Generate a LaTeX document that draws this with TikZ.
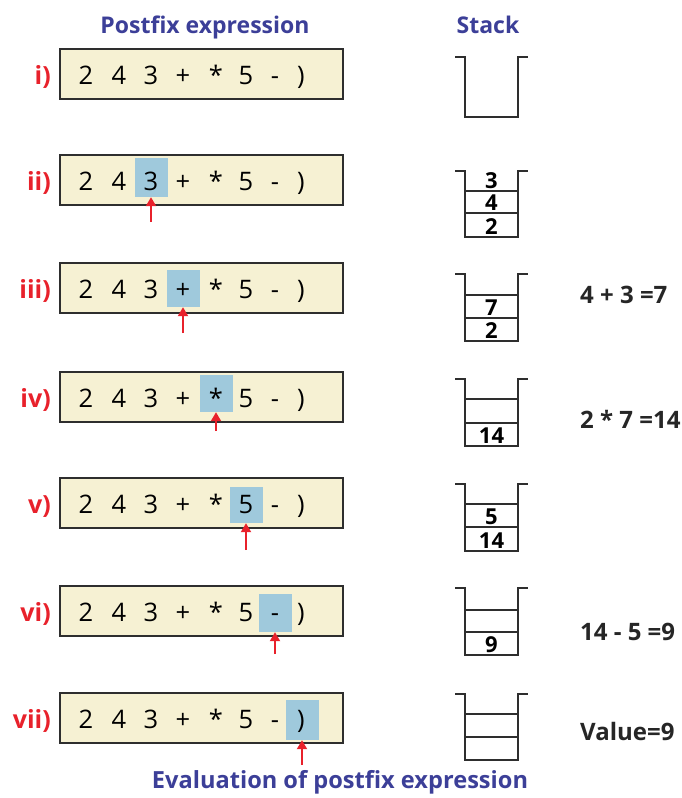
\documentclass[tikz,border=0pt]{standalone}
\usepackage{fontspec}
\setmainfont{Open Sans}
\usetikzlibrary{arrows.meta}
\definecolor{cream}{HTML}{F6F1D3}
\definecolor{hlblue}{HTML}{9FC9DC}
\definecolor{redlab}{HTML}{E8212B}
\definecolor{titleblue}{HTML}{3C3F98}
\definecolor{linegray}{HTML}{2E2E2E}
\newcommand\exprbox[3]{%
  \node[exprbox] (box#1) at (201.5,#2) {};
  \node[rowlab] (lab#1) at (51,{#2+10}) {#3};}
\newcommand\exprchars[2]{%
  \foreach \xx/\cc [count=\k] in {86/2,119/4,151/3,183/+,216/*,246/5,275/-,301/)}
    {\node[ch] (c#1-\k) at (\xx,{#2+10}) {\cc};}}
\newcommand\stackshape[2]{%
  \draw[stackline] (455,#1) -- (465,#1) -- (465,#2) -- (518,#2) -- (518,#1) -- (528,#1);}
\newcommand\stackrule[1]{\draw[stackline] (465,#1) -- (518,#1);}
\begin{document}
\begin{tikzpicture}[x=1pt,y=-1pt,
  exprbox/.style={draw=linegray,line width=1.8pt,fill=cream,minimum width=283pt,minimum height=50pt,inner sep=0pt},
  rowlab/.style={text=redlab,font=\fontsize{25}{25}\selectfont\bfseries,anchor=base east,inner sep=0pt},
  ch/.style={font=\fontsize{25.5}{25.5}\selectfont,anchor=base,inner sep=0pt},
  hl/.style={fill=hlblue,minimum width=33pt,inner sep=0pt},
  arr/.style={draw=redlab,line width=2pt,-{Triangle[width=10pt,length=9pt]}},
  stackline/.style={draw=linegray,line width=1.8pt},
  snum/.style={font=\fontsize{22}{22}\selectfont\bfseries,anchor=base,inner sep=0pt},
  eq/.style={font=\fontsize{24}{24}\selectfont\bfseries,text=black!85,anchor=base west,inner sep=0pt},
  title/.style={font=\fontsize{23}{23}\selectfont\bfseries,text=titleblue,anchor=base,inner sep=0pt}]
\useasboundingbox (0,0) rectangle (682,798);
% titles
\node[title] (t1) at (205,33) {Postfix expression};
\node[title] (t2) at (488,33) {Stack};
\node[title,font=\fontsize{23.6}{23.6}\selectfont\bfseries] (cap) at (340,788) {Evaluation of postfix expression};
% row i
\exprbox{1}{74}{i)}
\exprchars{1}{74}
% row ii
\exprbox{2}{180}{ii)}
\node[hl,minimum height=39pt] (h2) at (151,177.5) {};
\exprchars{2}{180}
\coordinate (a2) at (151,222);
\draw[arr] (a2) -- (h2.south);
% row iii
\exprbox{3}{288}{iii)}
\node[hl,minimum height=37pt] (h3) at (183,288.5) {};
\exprchars{3}{288}
\coordinate (a3) at (183,333);
\draw[arr] (a3) -- (h3.south);
% row iv
\exprbox{4}{397}{iv)}
\node[hl,minimum height=37pt] (h4) at (216,393.5) {};
\exprchars{4}{397}
\coordinate (a4) at (216,431);
\draw[arr] (a4) -- (h4.south);
% row v
\exprbox{5}{503}{v)}
\node[hl,minimum height=36pt] (h5) at (246,505) {};
\exprchars{5}{503}
\coordinate (a5) at (246,550);
\draw[arr] (a5) -- (h5.south);
% row vi
\exprbox{6}{611}{vi)}
\node[hl,minimum height=38pt] (h6) at (275,613) {};
\exprchars{6}{611}
\coordinate (a6) at (275,654);
\draw[arr] (a6) -- (h6.south);
% row vii
\exprbox{7}{718}{vii)}
\node[hl,minimum height=40pt] (h7) at (302,720) {};
\exprchars{7}{718}
\coordinate (a7) at (302,765);
\draw[arr] (a7) -- (h7.south);
% stacks
\stackshape{57}{117}
\stackshape{171}{237}
\stackrule{191}\stackrule{213}
\node[snum] (s2a) at (491.5,188) {3};
\node[snum] (s2b) at (491.5,210) {4};
\node[snum] (s2c) at (491.5,234) {2};
\stackshape{274}{341}
\stackrule{295}\stackrule{318}
\node[snum] (s3a) at (491.5,315) {7};
\node[snum] (s3b) at (491.5,338) {2};
\stackshape{379}{446}
\stackrule{399}\stackrule{423}
\node[snum] (s4a) at (491.5,443) {14};
\stackshape{484}{551}
\stackrule{504}\stackrule{527}
\node[snum] (s5a) at (491.5,524) {5};
\node[snum] (s5b) at (491.5,548) {14};
\stackshape{588}{655}
\stackrule{610}\stackrule{632}
\node[snum] (s6a) at (491.5,652) {9};
\stackshape{694}{760}
\stackrule{714}\stackrule{737}
% equations
\node[eq] (e3) at (580,303) {4 + 3 =7};
\node[eq] (e4) at (580,428) {2 * 7 =14};
\node[eq] (e6) at (580,640) {14 - 5 =9};
\node[eq] (e7) at (580,740) {Value=9};
\end{tikzpicture}
\end{document}
